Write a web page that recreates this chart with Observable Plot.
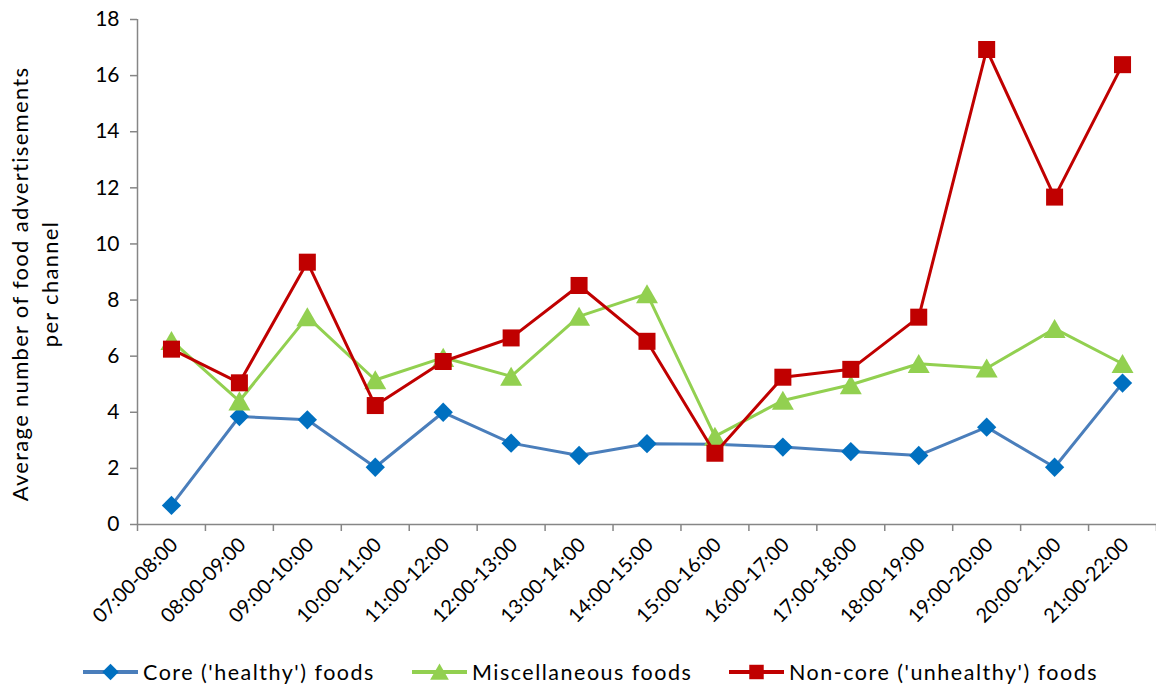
<!DOCTYPE html>
<html>
<head>
<meta charset="utf-8">
<script src="https://cdn.jsdelivr.net/npm/d3@7"></script>
<script src="https://cdn.jsdelivr.net/npm/@observablehq/plot@0.6"></script>
<style>
  body { margin: 0; background: #fff; font-family: Lato, "Open Sans", sans-serif; }
  #chart { position: relative; width: 1156px; height: 687px; overflow: hidden; }
  #legend { position: absolute; left: 0; top: 650px; width: 1156px; height: 44px; }
  .item { position: absolute; top: 0; height: 44px; display: flex; align-items: center; font-size: 21.5px; letter-spacing: 1.5px; color: #000; white-space: nowrap; }
  .item svg { margin-right: 5px; }
  .ytitle { letter-spacing: 1.3px; }
</style>
</head>
<body>
<div id="chart"><div id="legend"></div></div>
<script>
// Hourly time slots on the x axis
const hours = [
  "07:00-08:00", "08:00-09:00", "09:00-10:00", "10:00-11:00", "11:00-12:00",
  "12:00-13:00", "13:00-14:00", "14:00-15:00", "15:00-16:00", "16:00-17:00",
  "17:00-18:00", "18:00-19:00", "19:00-20:00", "20:00-21:00", "21:00-22:00"
];

// Average number of food advertisements per channel, by food category
const coreFoods    = [0.68, 3.85, 3.73, 2.04, 4.00, 2.90, 2.46, 2.88, 2.86, 2.76, 2.60, 2.46, 3.47, 2.04, 5.04];
const miscFoods    = [6.55, 4.40, 7.40, 5.15, 5.95, 5.28, 7.42, 8.22, 3.14, 4.42, 4.98, 5.73, 5.57, 6.98, 5.73];
const noncoreFoods = [6.25, 5.05, 9.35, 4.24, 5.81, 6.65, 8.52, 6.53, 2.54, 5.25, 5.53, 7.39, 16.93, 11.67, 16.39];

const seriesNames = ["Core ('healthy') foods", "Miscellaneous foods", "Non-core ('unhealthy') foods"];
const yTicks = [0, 2, 4, 6, 8, 10, 12, 14, 16, 18];
const yTitle = ["Average number of food advertisements", "per channel"];

// Drawing style per series
const styles = [
  { line: "#4a7ebb", marker: "#0070c0", symbol: "diamond2", r: 8.7, dy: 0 },
  { line: "#92d050", marker: "#92d050", symbol: "triangle2", r: 10.5, dy: 3 },
  { line: "#c00000", marker: "#c00000", symbol: "square", r: 9.6, dy: 0 }
];

const seriesValues = [coreFoods, miscFoods, noncoreFoods];
const seriesRows = seriesValues.map((vals, s) =>
  vals.map((v, i) => ({ i, hour: hours[i], value: v, series: seriesNames[s] }))
);

const boundaries = d3.range(hours.length + 1).map(k => k - 0.5);
const axisGray = "#868686";

const seriesMarks = seriesRows.flatMap((rows, s) => [
  Plot.line(rows, { x: "i", y: "value", stroke: styles[s].line, strokeWidth: 3 }),
  Plot.dot(rows, { x: "i", y: "value", symbol: styles[s].symbol, r: styles[s].r, fill: styles[s].marker, stroke: "none", dy: styles[s].dy })
]);

const chart = Plot.plot({
  width: 1156,
  height: 650,
  marginLeft: 137,
  marginRight: 0,
  marginTop: 19,
  marginBottom: 126,
  style: { fontFamily: "Lato, 'Open Sans', sans-serif", fontSize: "20px", color: "#000", background: "#fff" },
  x: { type: "linear", domain: [-0.5, hours.length - 0.5] },
  y: { domain: [0, 18] },
  marks: [
    Plot.axisY({ ticks: yTicks, tickSize: 7, tickPadding: 11, stroke: axisGray, strokeWidth: 1.5, fill: "#000", fontSize: 21, label: null }),
    Plot.axisX({ ticks: boundaries, tickSize: 7, tickFormat: () => "", stroke: axisGray, strokeWidth: 1.5, label: null }),
    Plot.ruleX([-0.5], { stroke: axisGray, strokeWidth: 1.5 }),
    Plot.ruleY([0], { stroke: axisGray, strokeWidth: 1.5 }),
    Plot.text(hours, { x: (d, i) => i, text: d => d, frameAnchor: "bottom", rotate: -45, textAnchor: "end", lineAnchor: "middle", dx: 3, dy: 17, fontSize: 20, fill: "#000" }),
    Plot.text([yTitle.join("\n")], { frameAnchor: "left", rotate: -90, lineAnchor: "middle", textAnchor: "middle", lineHeight: 1.36, dx: -104, dy: 12, fontSize: 22, fill: "#000", className: "ytitle" }),
    ...seriesMarks
  ]
});

const container = document.getElementById("chart");
container.insertBefore(chart, container.firstChild);

// Legend below the chart: line swatch with the series marker, then the name
const legend = document.getElementById("legend");
const legendLeft = [83, 412, 729];
seriesNames.forEach((name, s) => {
  const item = document.createElement("div");
  item.className = "item";
  item.style.left = legendLeft[s] + "px";
  const sw = d3.create("svg").attr("width", 55).attr("height", 24);
  sw.append("line").attr("x1", 0).attr("x2", 55).attr("y1", 12).attr("y2", 12)
    .attr("stroke", styles[s].line).attr("stroke-width", 4);
  const sym = { diamond2: d3.symbolDiamond2, triangle2: d3.symbolTriangle2, square: d3.symbolSquare }[styles[s].symbol];
  const size = Math.PI * Math.pow(styles[s].r * 0.85, 2);
  sw.append("path").attr("d", d3.symbol(sym, size)())
    .attr("transform", `translate(27.5,${12 + styles[s].dy * 0.8})`).attr("fill", styles[s].marker);
  item.appendChild(sw.node());
  const label = document.createElement("span");
  label.textContent = name;
  item.appendChild(label);
  legend.appendChild(item);
});
</script>
</body>
</html>
